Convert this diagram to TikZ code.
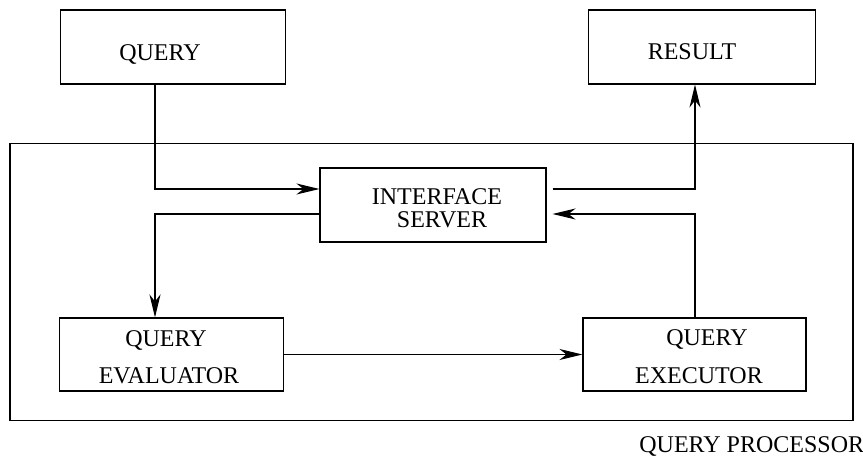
\documentclass[tikz,border=0pt]{standalone}
\usepackage{fontspec}
\setmainfont{Liberation Serif}
\usetikzlibrary{arrows.meta,calc}
\begin{document}
\begin{tikzpicture}[x=0.5pt,y=-0.5pt,
  box/.style={draw,line width=0.55pt,rectangle,inner sep=0pt},
  lbl/.style={inner sep=0pt,anchor=base,font=\fontsize{12}{14.5}\selectfont},
  arr/.style={line width=0.55pt,-{Stealth[length=11.5pt,width=5.5pt,inset=3.5pt]}}]
\useasboundingbox (0,0) rectangle (863,459);
% outer processor box
\node[box,minimum width=421.5pt,minimum height=138.5pt] (proc) at (431.5,282.25) {};
\node[lbl,anchor=base west] (proclbl) at (639,453) {QUERY PROCESSOR};
% boxes
\node[box,minimum width=112.5pt,minimum height=37pt] (query) at (172.75,47) {};
\node[lbl] (querylbl) at (160,61) {QUERY};
\node[box,minimum width=113.5pt,minimum height=37pt] (result) at (702,47) {};
\node[lbl] (resultlbl) at (692,60) {RESULT};
\node[box,minimum width=113pt,minimum height=37pt] (iface) at (433,205) {};
\node[lbl] (ifacelbla) at (437,205) {INTERFACE};
\node[lbl] (ifacelblb) at (442,228) {SERVER};
\node[box,minimum width=112pt,minimum height=36.5pt] (eval) at (171.5,354.5) {};
\node[lbl] (evallbla) at (166,347) {QUERY};
\node[lbl] (evallblb) at (169,384) {EVALUATOR};
\node[box,minimum width=111.5pt,minimum height=36.5pt] (exec) at (694.5,354.5) {};
\node[lbl] (execlbla) at (707,346) {QUERY};
\node[lbl] (execlblb) at (699,384) {EXECUTOR};
% guide coordinates
\coordinate (lx) at (155,0);
\coordinate (rx) at (695,0);
\coordinate (inA) at ($(iface.west)+(0,-16)$);
\coordinate (outB) at ($(iface.west)+(0,9)$);
\coordinate (outA) at ($(iface.east)+(6,-16)$);
\coordinate (inB) at ($(iface.east)+(6,9)$);
% connectors
\draw[arr] (query.south -| lx) |- (inA);
\draw[arr] (outB) -| (eval.north -| lx);
\draw[arr] (eval.east) -- (exec.west);
\draw[arr] (exec.north -| rx) |- (inB);
\draw[arr] (outA) -| (result.south -| rx);
\end{tikzpicture}
\end{document}
